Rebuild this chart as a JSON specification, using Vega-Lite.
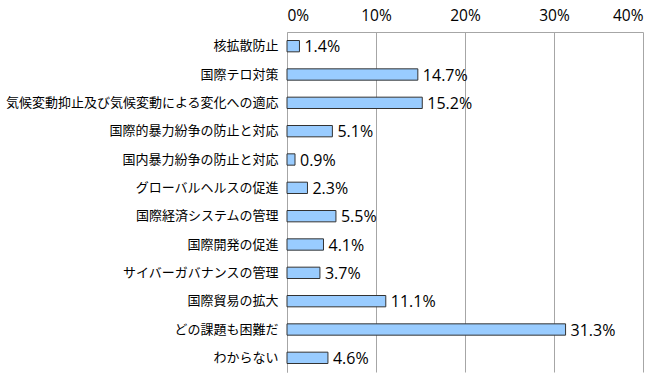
{
  "$schema": "https://vega.github.io/schema/vega-lite/v6.json",
  "width": 356,
  "height": 340,
  "autosize": {"type": "none"},
  "padding": {"left": 287, "top": 32, "right": 17, "bottom": 12},
  "background": "white",
  "config": {"view": {"stroke": null}},
  "data": {
    "values": [
      {"item": "核拡散防止", "value": 0.014},
      {"item": "国際テロ対策", "value": 0.147},
      {"item": "気候変動抑止及び気候変動による変化への適応", "value": 0.152},
      {"item": "国際的暴力紛争の防止と対応", "value": 0.051},
      {"item": "国内暴力紛争の防止と対応", "value": 0.009},
      {"item": "グローバルヘルスの促進", "value": 0.023},
      {"item": "国際経済システムの管理", "value": 0.055},
      {"item": "国際開発の促進", "value": 0.041},
      {"item": "サイバーガバナンスの管理", "value": 0.037},
      {"item": "国際貿易の拡大", "value": 0.111},
      {"item": "どの課題も困難だ", "value": 0.313},
      {"item": "わからない", "value": 0.046}
    ]
  },
  "encoding": {
    "y": {
      "field": "item",
      "type": "nominal",
      "sort": null,
      "scale": {"paddingInner": 0.6, "paddingOuter": 0.3},
      "axis": {
        "title": null,
        "ticks": false,
        "domain": true,
        "domainColor": "#a6a6a6",
        "labelFont": "Noto Sans CJK JP",
        "labelFontSize": 13,
        "labelColor": "#000000",
        "labelPadding": 9,
        "labelLimit": 400
      }
    },
    "x": {
      "field": "value",
      "type": "quantitative",
      "scale": {"domain": [0, 0.4], "nice": false},
      "axis": {
        "orient": "top",
        "title": null,
        "format": ".0%",
        "values": [0, 0.1, 0.2, 0.3, 0.4],
        "ticks": false,
        "domainColor": "#a6a6a6",
        "grid": true,
        "gridColor": "#a6a6a6",
        "labelFont": "Open Sans",
        "labelFontSize": 15.5,
        "labelColor": "#000000",
        "labelPadding": 9
      }
    }
  },
  "layer": [
    {
      "mark": {"type": "bar", "color": "#99ccff", "stroke": "#333333", "strokeWidth": 1}
    },
    {
      "mark": {"type": "text", "align": "left", "baseline": "middle", "dx": 5, "dy": 1, "font": "Open Sans", "fontSize": 16, "color": "#000000"},
      "encoding": {"text": {"field": "value", "type": "quantitative", "format": ".1%"}}
    }
  ]
}
